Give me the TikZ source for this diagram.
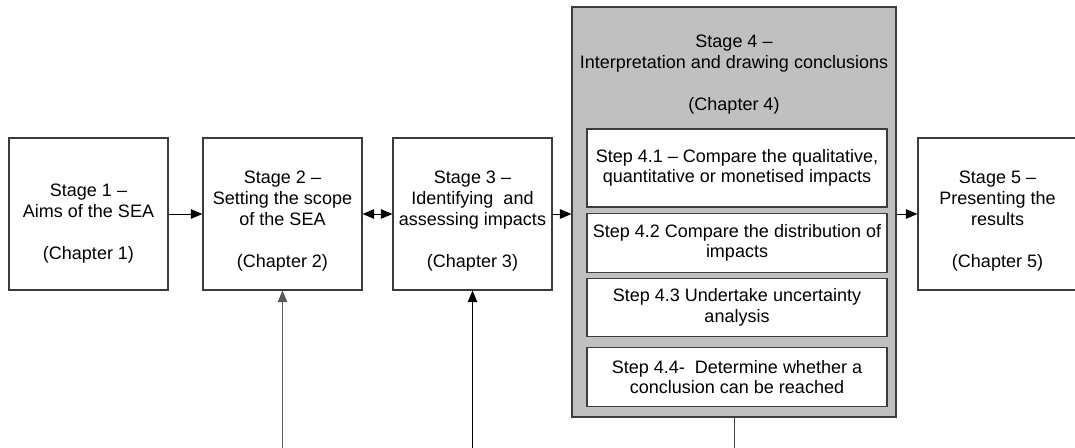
\documentclass[tikz,border=0pt]{standalone}
\usepackage{fontspec}
\setmainfont{Liberation Sans}
\usetikzlibrary{arrows.meta,positioning,calc}
\definecolor{boxline}{HTML}{3C3C3C}
\definecolor{stagegray}{HTML}{C0C0C0}
\tikzset{
  >={Triangle[length=11.5pt,width=9.5pt]},
  % steg
  stage/.style={rectangle,draw=boxline,fill=white,line width=1.2pt,inner sep=0pt,
                minimum width=159pt,minimum height=152pt},
  stagetxt/.style={align=center,font=\fontsize{18}{21}\selectfont,inner sep=0pt},
  bigstage/.style={rectangle,draw=boxline,fill=stagegray,line width=1.2pt,inner sep=0pt,
                   minimum width=324pt,minimum height=410pt},
  substep/.style={rectangle,draw=boxline,fill=white,line width=1.2pt,inner sep=0pt,
                  minimum width=300pt,align=center,font=\fontsize{18}{20.5}\selectfont},
  % pilar
  flow/.style={->,draw=black,line width=1pt},
  dflow/.style={<->,draw=black,line width=1pt},
  feed/.style={->,draw=black!65,line width=1pt},
  feedline/.style={draw=black!75,line width=1pt},
}
\begin{document}
\begin{tikzpicture}[x=1pt,y=-1pt]
  \useasboundingbox (0,0) rectangle (1075,447);
  \node[stage] (s1) at (88.5,214) {};
  \node[stagetxt] (s1t) at ([yshift=-9.5pt]s1.center) {Stage 1 --\\Aims of the SEA\\[21pt](Chapter 1)};
  \node[stage] (s2) at (282.5,214) {};
  \node[stagetxt] (s2t) at ([yshift=-7.5pt]s2.center) {Stage 2 --\\Setting the scope\\of the SEA\\[21pt](Chapter 2)};
  \node[stage] (s3) at (472.5,214) {};
  \node[stagetxt] (s3t) at ([yshift=-7.5pt]s3.center) {Stage 3 --\\Identifying~ and\\assessing impacts\\[21pt](Chapter 3)};
  \node[bigstage] (s4) at (734,212) {};
  \node[stagetxt] (s4t) at ($(s4.north)+(0,68.5)$) {Stage 4 --\\Interpretation and drawing conclusions\\[21pt](Chapter 4)};
  \node[stage] (s5) at (997.5,214) {};
  \node[stagetxt] (s5t) at ([yshift=-7.5pt]s5.center) {Stage 5 --\\Presenting the\\results\\[21pt](Chapter 5)};
  % delsteg i steg 4
  \node[substep,minimum height=78pt] (st1) at (737,168) {Step 4.1 -- Compare the qualitative,\\quantitative or monetised impacts};
  \node[substep,minimum height=59pt,below=5pt of st1] (st2) {Step 4.2 Compare the distribution of\\impacts};
  \node[substep,minimum height=58pt,below=5pt of st2] (st3) {Step 4.3 Undertake uncertainty\\analysis};
  \node[substep,minimum height=59pt,below=10pt of st3] (st4) {Step 4.4-~ Determine whether a\\conclusion can be reached};
  % pilar
  \draw[flow] (s1.east) -- (s2.west);
  \draw[dflow] (s2.east) -- (s3.west);
  \draw[flow] (s3.east) -- (s3.east -| s4.west);
  \draw[flow] (s5.west -| s4.east) -- (s5.west);
  \coordinate (in2) at (282.5,449);
  \coordinate (in3) at (472.5,449);
  \coordinate (out4) at (734,449);
  \draw[feed] (in2) -- (s2.south);
  \draw[flow] (in3) -- (s3.south);
  \draw[feedline] (s4.south) -- (out4);
\end{tikzpicture}
\end{document}
